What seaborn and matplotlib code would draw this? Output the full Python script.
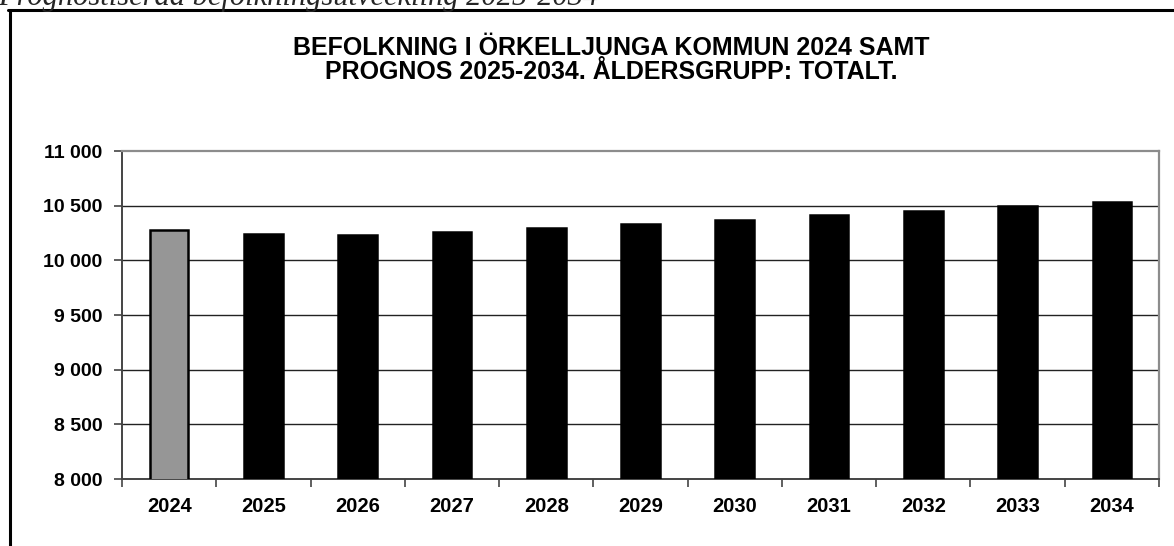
import matplotlib
matplotlib.use("Agg")
import matplotlib.pyplot as plt
import seaborn as sns
import pandas as pd
from matplotlib.lines import Line2D

years = ["2024", "2025", "2026", "2027", "2028", "2029", "2030", "2031", "2032", "2033", "2034"]
population = [10277, 10242, 10232, 10255, 10294, 10328, 10372, 10412, 10453, 10497, 10531]
kind = ["Utfall"] + ["Prognos"] * 10
ytick_values = [8000, 8500, 9000, 9500, 10000, 10500, 11000]
ytick_labels = ["8 000", "8 500", "9 000", "9 500", "10 000", "10 500", "11 000"]
title_text = "BEFOLKNING I ÖRKELLJUNGA KOMMUN 2024 SAMT\nPROGNOS 2025-2034. ÅLDERSGRUPP: TOTALT."
header_text = "Prognostiserad befolkningsutveckling 2025-2034"

df = pd.DataFrame({"year": years, "population": population, "kind": kind})

sns.set_theme(style="white")
plt.rcParams["font.family"] = ["Liberation Sans", "DejaVu Sans"]

fig = plt.figure(figsize=(11.74, 5.46), dpi=100)
ax = fig.add_axes([122 / 1174, 1 - 479 / 546, (1159 - 122) / 1174, (479 - 151) / 546])

sns.barplot(data=df, x="year", y="population", hue="kind",
            palette={"Utfall": "#969696", "Prognos": "#000000"},
            dodge=False, width=0.41, edgecolor="black", linewidth=1.8,
            legend=False, ax=ax, zorder=3)

ax.set_ylim(8000, 11000)
ax.set_xlim(-0.5, len(years) - 0.5)
ax.set_yticks(ytick_values)
ax.set_yticklabels(ytick_labels, fontsize=14, fontweight="bold", color="black")
ax.set_xticks(range(len(years)))
ax.set_xticklabels(years, fontsize=14.5, fontweight="bold", color="black")
ax.set_xlabel("")
ax.set_ylabel("")

for v in ytick_values[1:-1]:
    ax.axhline(v, color="#222222", linewidth=1.0, zorder=1)

for s in ["top", "right"]:
    ax.spines[s].set_color("#8c8c8c")
    ax.spines[s].set_linewidth(1.6)
for s in ["left", "bottom"]:
    ax.spines[s].set_color("#444444")
    ax.spines[s].set_linewidth(1.4)

ax.tick_params(axis="y", which="major", left=True, length=6, width=1.2,
               color="#444444", pad=8, direction="out")
ax.tick_params(axis="x", which="major", bottom=False, pad=7)
# category boundary tick marks on x axis
ax.set_xticks([i - 0.5 for i in range(len(years) + 1)], minor=True)
ax.tick_params(axis="x", which="minor", bottom=True, length=6, width=1.2,
               color="#444444", direction="out")

fig.text(611 / 1174, 1 - 79 / 546, title_text, ha="center", va="baseline",
         fontsize=18, fontweight="bold", linespacing=1.0, color="black")

fig.text(-2 / 1174, 1 - 5 / 546, header_text, ha="left", va="baseline",
         fontsize=22, style="italic", family=["Liberation Serif", "DejaVu Serif"])

# outer frame (left and top edges visible)
fig.add_artist(Line2D([9.5 / 1174, 9.5 / 1174], [0, 1 - 9.5 / 546],
                      transform=fig.transFigure, color="black", linewidth=2.2))
fig.add_artist(Line2D([8.4 / 1174, 1.0], [1 - 9.5 / 546, 1 - 9.5 / 546],
                      transform=fig.transFigure, color="black", linewidth=2.2))

fig.savefig("out.png", dpi=100)
